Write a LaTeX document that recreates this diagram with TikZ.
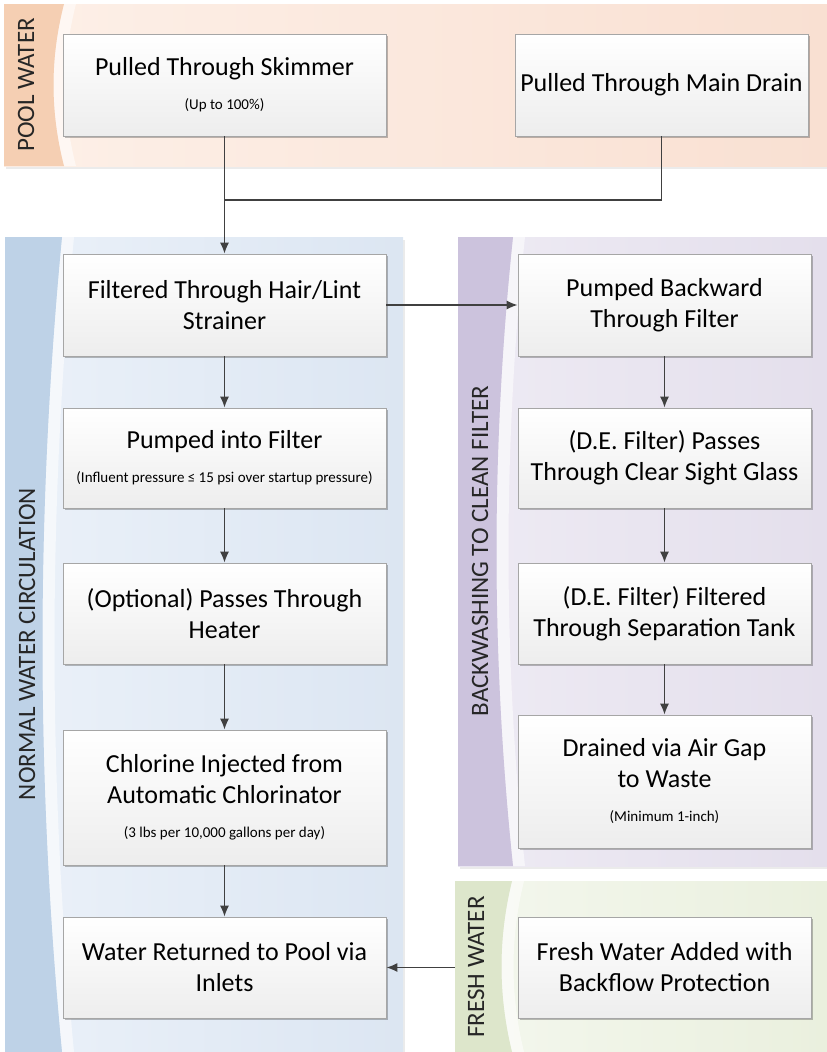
\documentclass[tikz,border=0pt]{standalone}
\usepackage{fontspec}
\setmainfont{Carlito}
\usetikzlibrary{arrows.meta,shadows,calc}
\definecolor{poolstrip}{HTML}{F5CFB3}
\definecolor{poolL}{HTML}{FDF0E8}
\definecolor{poolR}{HTML}{F9E0D2}
\definecolor{bluestrip}{HTML}{BED2E7}
\definecolor{blueL}{HTML}{EBF1F9}
\definecolor{blueR}{HTML}{DCE6F2}
\definecolor{purpstrip}{HTML}{CCC3DD}
\definecolor{purpL}{HTML}{EEEBF4}
\definecolor{purpR}{HTML}{E4DFEC}
\definecolor{grnstrip}{HTML}{DDE6CB}
\definecolor{grnL}{HTML}{F4F7EE}
\definecolor{grnR}{HTML}{EAF0DE}
\definecolor{boxline}{HTML}{A6A6A6}
\definecolor{arrowc}{HTML}{404040}
\newcommand{\drawlane}[9]{%
  % #1 L, #2 T, #3 R, #4 B, #5 strip width, #6 strip col, #7 left col, #8 right col, #9 bend
  \fill[black,opacity=.08] (#1+2,#2+3) rectangle (#3+2,#4+3);
  \fill[left color=#7,right color=#8] (#1,#2) rectangle (#3,#4);
  \fill[white,opacity=.55] (#1+#5,#2) .. controls (#1+#5-#9,{#2+(#4-#2)/3}) and (#1+#5-#9,{#4-(#4-#2)/3}) .. (#1+#5,#4)
     -- (#1+#5+12,#4) .. controls (#1+#5+12-#9,{#4-(#4-#2)/3}) and (#1+#5+12-#9,{#2+(#4-#2)/3}) .. (#1+#5+12,#2) -- cycle;
  \fill[#6] (#1,#2) -- (#1+#5,#2) .. controls (#1+#5-#9,{#2+(#4-#2)/3}) and (#1+#5-#9,{#4-(#4-#2)/3}) .. (#1+#5,#4) -- (#1,#4) -- cycle;
}
\tikzset{
  stepbox/.style={draw=boxline, line width=0.8pt, top color=white, bottom color=black!7,
    rectangle, align=flush center, inner sep=1pt, font=\fontsize{26}{31}\selectfont,
    drop shadow={shadow xshift=2pt, shadow yshift=-2pt, opacity=.25, fill=black}},
  leftbox/.style={stepbox, minimum width=323pt, text width=318pt},
  rightbox/.style={stepbox, minimum width=293pt, text width=290pt},
  lanelabel/.style={rotate=90, font=\fontsize{25}{28}\selectfont, text=black!85},
  flow/.style={draw=arrowc, line width=1.4pt, -{Latex[length=11pt,width=9pt]}},
  plain/.style={draw=arrowc, line width=1.4pt},
}
\newcommand{\sub}[1]{\\[3pt]{\fontsize{15}{17}\selectfont #1}}
\begin{document}
\begin{tikzpicture}[x=1pt,y=-1pt]
\useasboundingbox (0,0) rectangle (827,1052);
% lanes
\drawlane{4}{4}{827}{166}{60}{poolstrip}{poolL}{poolR}{14}
\drawlane{5}{237}{403}{1052}{57}{bluestrip}{blueL}{blueR}{26}
\drawlane{458}{237}{827}{866}{55}{purpstrip}{purpL}{purpR}{22}
\drawlane{455}{881}{827}{1052}{57}{grnstrip}{grnL}{grnR}{14}
\node[lanelabel] (lpool) at (26,85) {POOL WATER};
\node[lanelabel] (lnorm) at (27,644) {NORMAL WATER CIRCULATION};
\node[lanelabel] (lback) at (480,551) {BACKWASHING TO CLEAN FILTER};
\node[lanelabel] (lfresh) at (476,967) {FRESH WATER};
% boxes
\node[leftbox, minimum height=102pt] (skim) at (224.5,85) {Pulled Through Skimmer\sub{(Up to 100\%)}};
\node[rightbox, minimum height=102pt] (drain) at (661.5,85) {Pulled Through Main Drain};
\node[leftbox, minimum height=102pt] (filt) at (224.5,305) {Filtered Through Hair/Lint\\Strainer};
\node[leftbox, minimum height=100pt] (pinto) at (224.5,458) {Pumped into Filter\sub{(Influent pressure ≤ 15 psi over startup pressure)}};
\node[leftbox, minimum height=101pt] (heat) at (224.5,613.5) {(Optional) Passes Through\\Heater};
\node[leftbox, minimum height=135pt] (chlor) at (224.5,797.5) {Chlorine Injected from\\Automatic Chlorinator\sub{(3 lbs per 10,000 gallons per day)}};
\node[leftbox, minimum height=101pt] (ret) at (224.5,967.5) {Water Returned to Pool via\\Inlets};
\node[rightbox, minimum height=102pt] (pback) at (664.5,305) {Pumped Backward\\Through Filter};
\node[rightbox, minimum height=100pt] (de1) at (664.5,458) {(D.E. Filter) Passes\\Through Clear Sight Glass};
\node[rightbox, minimum height=101pt] (de2) at (664.5,613.5) {(D.E. Filter) Filtered\\Through Separation Tank};
\node[rightbox, minimum height=133pt] (drained) at (664.5,781.5) {Drained via Air Gap\\to Waste\sub{(Minimum 1-inch)}};
\node[rightbox, minimum height=101pt] (fresh) at (664.5,967.5) {Fresh Water Added with\\Backflow Protection};
% connectors
\coordinate (join) at (224.5,200);
\coordinate (freshedge) at (455,967.5);
\draw[flow] (skim) -- (filt);
\draw[plain] (drain.south) |- (join);
\draw[flow] (filt) -- (pback);
\draw[flow] (filt) -- (pinto);
\draw[flow] (pinto) -- (heat);
\draw[flow] (heat) -- (chlor);
\draw[flow] (chlor) -- (ret);
\draw[flow] (pback) -- (de1);
\draw[flow] (de1) -- (de2);
\draw[flow] (de2) -- (drained);
\draw[flow] (freshedge) -- (ret);
\end{tikzpicture}
\end{document}
